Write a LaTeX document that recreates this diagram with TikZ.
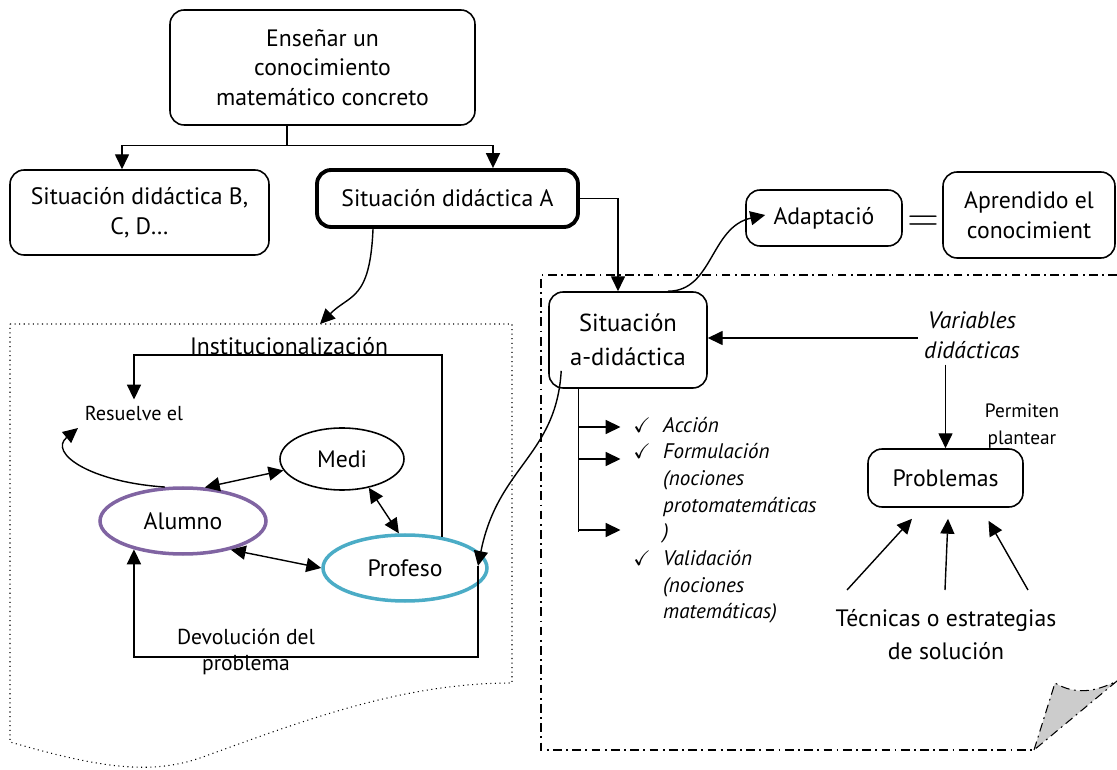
\documentclass[tikz,border=0pt]{standalone}
\usepackage{amssymb}
\usepackage{fontspec}
\setmainfont{PT Sans}
\usetikzlibrary{shapes.geometric, arrows.meta}

\definecolor{alumnocol}{RGB}{128,100,162}
\definecolor{profesocol}{RGB}{75,172,198}

\begin{document}
\begin{tikzpicture}[x=0.02cm, y=-0.02cm,
    box/.style={draw, rounded corners=8pt, line width=0.9pt, align=center, font=\fontsize{13.5}{16.8}\selectfont},
    thick box/.style={box, line width=2.2pt},
    txt/.style={align=center, font=\fontsize{13.5}{16.8}\selectfont},
    small/.style={align=center, font=\fontsize{11}{15}\selectfont},
    oval/.style={draw, ellipse, line width=0.9pt, font=\fontsize{13.5}{14}\selectfont},
    dashdot/.style={line width=0.6pt, dash pattern=on 5pt off 2.5pt on 1pt off 2.5pt},
    n/.style={-{Triangle[length=8.5pt, width=8pt]}, line width=0.8pt},
    d/.style={{Triangle[length=8.5pt, width=8pt]}-{Triangle[length=8.5pt, width=8pt]}, line width=0.8pt}]
    \useasboundingbox (0,0) rectangle (1117,770);
    % frames
    \draw[dotted, line width=0.6pt] (10,324) -- (512,324) -- (512,683)
        .. controls (400,683) and (300,722) .. (200,758)
        .. controls (150,775) and (100,768) .. (10,742) -- cycle;
    \draw[dashdot] (1117,275) -- (541,275) -- (541,750) -- (1034,750);
    \filldraw[dashdot, fill=gray!40] (1034,750) -- (1055,683)
        .. controls (1075,695) and (1095,692) .. (1117,681) -- cycle;
    % nodes
    \node[box, minimum width=6.1cm, minimum height=2.3cm] (ensenar) at (322.5,67.5) {Enseñar un\\conocimiento\\matemático concreto};
    \node[box, minimum width=5.18cm, minimum height=1.7cm] (sitB) at (139.5,212.5) {Situación didáctica B,\\C, D\dots};
    \node[thick box, minimum width=5.22cm, minimum height=1.14cm] (sitA) at (447.5,198.5) {Situación didáctica A};
    \node[box, font=\fontsize{14}{19.5}\selectfont, minimum width=3.16cm, minimum height=1.92cm] (sadid) at (628,340) {Situación\\a-didáctica};
    \node[box, minimum width=3.12cm, minimum height=1.12cm] (adapt) at (824,218) {Adaptació};
    \node[txt, font=\fontsize{24}{24}\selectfont] (igual) at (923,224) {$=$};
    \node[box, minimum width=3.44cm, minimum height=1.72cm] (aprend) at (1029,215) {Aprendido el\\conocimient};
    \node[txt, font=\fontsize{13.5}{16.8}\itshape] (vars) at (972,335) {Variables\\didácticas};
    \node[small] (permiten) at (1022,426) {Permiten\\plantear};
    \node[box, minimum width=3.1cm, minimum height=1.16cm] (probl) at (945.5,478) {Problemas};
    \node[txt, font=\fontsize{13.5}{19}\selectfont, anchor=north] (tecn) at (946,603) {Técnicas o estrategias\\de solución};
    \node[anchor=north west, inner sep=0pt, font=\fontsize{12}{15.2}\itshape] (lista) at (633,413) {%
        \begin{tabular}{@{}l@{\hspace{7pt}}l@{}}
        $\checkmark$ & Acción\\
        $\checkmark$ & Formulación\\
         & (nociones\\
         & protomatemáticas\\
         & )\\
        $\checkmark$ & Validación\\
         & (nociones\\
         & matemáticas)
        \end{tabular}};
    \node[small, font=\fontsize{11.5}{12}\selectfont] (resuelve) at (134,413) {Resuelve el};
    \node[txt, anchor=base, inner sep=1pt] (inst) at (289,355) {Institucionalización};
    \node[txt, font=\fontsize{12.3}{14.7}\selectfont] (devol) at (246,652) {Devolución del\\problema};
    \node[oval, minimum width=2.48cm, minimum height=1.24cm] (medi) at (342,459) {Medi};
    \node[oval, draw=alumnocol, line width=2pt, minimum width=3.32cm, minimum height=1.32cm] (alumno) at (183,521) {Alumno};
    \node[oval, draw=profesocol, line width=2pt, minimum width=3.28cm, minimum height=1.32cm] (profeso) at (405,568) {Profeso};
    \coordinate (dev) at (478,566);
    \coordinate (resarr) at (78,428);
    % edges
    \draw[line width=0.8pt] ([xshift=-0.71cm]ensenar.south) -- ++(0,20) coordinate (split);
    \draw[n] (split) -| ([xshift=-0.35cm]sitB.north);
    \draw[n] (split) -| ([xshift=0.91cm]sitA.north);
    \draw[n] (sitA.east) -| ([xshift=-0.2cm]sadid.north);
    \draw[n] ([xshift=-1.49cm]sitA.south) .. controls +(-3,72) and +(30,-30) .. (320,324);
    \draw[n] ([xshift=0.8cm]sadid.north) .. controls +(45,0) and +(-55,12) .. ([xshift=0.4cm, yshift=0.06cm]adapt.west);
    \draw[n] (vars.west |- 0,338) -- (sadid.east |- 0,338);
    \draw[n] (vars.south -| probl.north) -- (probl.north);
    \draw[n] ([xshift=-1.98cm, yshift=0.26cm]tecn.north) -- ([xshift=-0.67cm, yshift=-0.22cm]probl.south);
    \draw[n] ([xshift=-0.02cm, yshift=0.26cm]tecn.north) -- ([xshift=0.05cm, yshift=-0.22cm]probl.south);
    \draw[n] ([xshift=1.64cm, yshift=0.26cm]tecn.north) -- ([xshift=0.86cm, yshift=-0.26cm]probl.south);
    \draw[line width=0.8pt] ([xshift=-0.99cm]sadid.south) coordinate (branch) -- ++(0,143);
    \foreach \y in {427,459,530}
        \draw[n] (branch |- 0,\y) -- ++(42,0);
    \draw[n] ([shift={(13,-18)}]sadid.south west) .. controls +(-5,85) and +(20,-100) .. (dev);
    \draw[n] (dev) -- ++(0,91) -| (alumno.210);
    \draw[n] (profeso.40) -- (profeso.40 |- inst.base) -| (resuelve.north);
    \draw[n] (alumno.118) .. controls +(-75,-5) and +(-30,25) .. (resarr);
    \draw[d] (alumno.57) -- (medi.191);
    \draw[d] (medi.-47) -- (profeso.100);
    \draw[d] (alumno.-31) -- (profeso.west);
\end{tikzpicture}
\end{document}
